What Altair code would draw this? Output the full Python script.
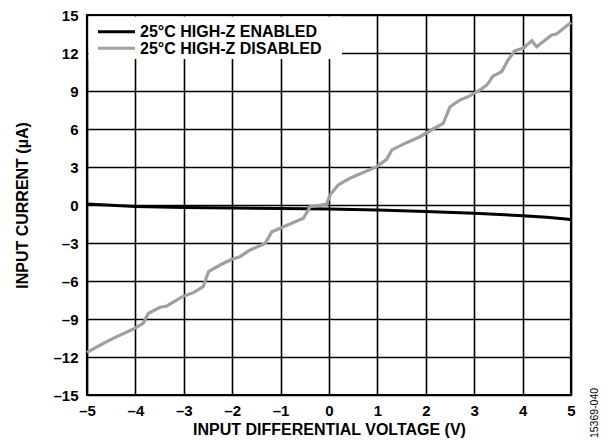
import altair as alt
import pandas as pd

# ---- data ----
x_ticks = [-5, -4, -3, -2, -1, 0, 1, 2, 3, 4, 5]
y_ticks = [-15, -12, -9, -6, -3, 0, 3, 6, 9, 12, 15]

series_names = ["25°C HIGH-Z ENABLED", "25°C HIGH-Z DISABLED"]
series_colors = ["#000000", "#a0a0a0"]

enabled_v = [-5, -4, -3, -2, -1, 0, 1, 2, 3, 4, 4.5, 5]
enabled_i = [0.08, -0.12, -0.2, -0.24, -0.27, -0.32, -0.4, -0.52, -0.65, -0.85, -0.97, -1.15]

disabled_v = [-5, -4.66, -4.46, -4.04, -3.84, -3.73, -3.49, -3.35, -3.0, -2.80, -2.60,
              -2.49, -2.25, -2.01, -1.84, -1.63, -1.32, -1.18, -0.94, -0.53, -0.39,
              -0.05, 0.02, 0.19, 0.43, 0.99, 1.19, 1.30, 1.60, 1.88, 2.15, 2.36, 2.50,
              2.71, 2.91, 3.12, 3.26, 3.39, 3.57, 3.70, 3.84, 4.01, 4.19, 4.29, 4.60,
              4.70, 5.0]
disabled_i = [-11.63, -10.92, -10.53, -9.79, -9.34, -8.55, -8.07, -7.97, -7.18, -6.92, -6.45,
              -5.26, -4.74, -4.29, -4.08, -3.55, -3.03, -2.11, -1.71, -1.05, -0.13,
              0.05, 0.79, 1.58, 2.11, 3.03, 3.6, 4.35, 4.92, 5.39, 6.0, 6.45, 7.76,
              8.29, 8.61, 9.08, 9.47, 10.18, 10.53, 11.45, 12.18, 12.37, 12.97, 12.5, 13.42,
              13.5, 14.4]

fig_id = "15369-040"

FONT = "Liberation Sans"
W, H = 484, 380

df_en = pd.DataFrame({"v": enabled_v, "i": enabled_i})
df_dis = pd.DataFrame({"v": disabled_v, "i": disabled_i})
one = pd.DataFrame({"a": [0]})

neg_expr = "datum.value < 0 ? '–' + abs(datum.value) : '' + datum.value"

xscale = alt.Scale(domain=[-5, 5], nice=False, zero=False)
yscale = alt.Scale(domain=[-15, 15], nice=False, zero=False)

xaxis = alt.Axis(values=x_ticks, labelExpr=neg_expr, grid=True, ticks=False, domain=False,
                 labelPadding=8, labelFontSize=15, labelFontWeight="bold", labelFont=FONT,
                 labelColor="black", labelFlush=False, labelOverlap=False,
                 gridColor="black", gridWidth=1.6, gridOpacity=1,
                 title="INPUT DIFFERENTIAL VOLTAGE (V)", titleFont=FONT, titleFontSize=16,
                 titleFontWeight="bold", titleColor="black", titleY=34, titleBaseline="middle")
yaxis = alt.Axis(values=y_ticks, labelExpr=neg_expr, grid=True, ticks=False, domain=False,
                 labelPadding=9, labelFontSize=15, labelFontWeight="bold", labelFont=FONT,
                 labelColor="black", labelFlush=False, labelOverlap=False,
                 gridColor="black", gridWidth=1.6, gridOpacity=1,
                 title="INPUT CURRENT (µA)", titleFont=FONT, titleFontSize=16,
                 titleFontWeight="bold", titleColor="black", titleX=-65, titleBaseline="middle")

line_en = alt.Chart(df_en).mark_line(color=series_colors[0], strokeWidth=3).encode(
    x=alt.X("v:Q", scale=xscale, axis=xaxis),
    y=alt.Y("i:Q", scale=yscale, axis=yaxis),
)
line_dis = alt.Chart(df_dis).mark_line(color=series_colors[1], strokeWidth=3.2).encode(
    x=alt.X("v:Q", scale=xscale, axis=xaxis),
    y=alt.Y("i:Q", scale=yscale, axis=yaxis),
)

# legend box
leg_box = alt.Chart(one).mark_rect(color="white").encode(
    x=alt.value(1.5), x2=alt.value(255), y=alt.value(1.5), y2=alt.value(44)
)
leg_rows = [16.7, 33.3]
leg_layers = []
for name, col, yy in zip(series_names, series_colors, leg_rows):
    leg_layers.append(
        alt.Chart(one).mark_rule(color=col, strokeWidth=3).encode(
            x=alt.value(11), x2=alt.value(48), y=alt.value(yy)
        )
    )
    leg_layers.append(
        alt.Chart(one).mark_text(text=name, align="left", baseline="middle", font=FONT,
                                 fontSize=16, fontWeight="bold", color="black").encode(
            x=alt.value(53), y=alt.value(yy + 0.5)
        )
    )

fig_text = alt.Chart(one).mark_text(text=fig_id, angle=270, align="center", baseline="middle",
                                    font=FONT, fontSize=10.5, color="black").encode(
    x=alt.value(508), y=alt.value(398)
)

chart = alt.layer(line_en, line_dis, leg_box, *leg_layers, fig_text).properties(
    width=W, height=H,
    background="white",
    padding={"left": 79, "top": 7, "right": 29, "bottom": 44},
    autosize=alt.AutoSizeParams(type="none"),
).configure_view(
    stroke="black", strokeWidth=2.2
)

chart.save("out.html", embed_options={"renderer": "svg", "actions": False})
